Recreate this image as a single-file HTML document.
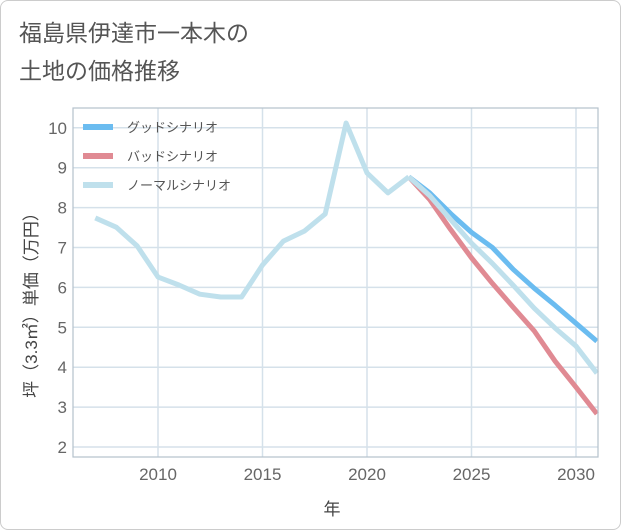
<!DOCTYPE html>
<html><head><meta charset="utf-8"><style>
body{margin:0;background:#fff;font-family:"Liberation Sans","Noto Sans CJK JP",sans-serif;}
#wrap{position:relative;width:619px;height:528px;border:1px solid #ccc;border-radius:8px;overflow:hidden}
</style></head><body>
<div id="wrap">
<svg id="chart" width="621" height="530" xmlns="http://www.w3.org/2000/svg">
<text x="18" y="40" font-size="23" fill="#555">福島県伊達市一本木の</text>
<text x="18" y="78" font-size="23" fill="#555">土地の価格推移</text>
<g id="grid"></g><g id="series"></g><g id="axes"></g><g id="legend"></g>
<text x="331" y="514" font-size="17" fill="#444" text-anchor="middle">年</text>
<text transform="translate(36,300) rotate(-90)" font-size="17" fill="#444" text-anchor="middle">坪（3.3㎡）単価（万円）</text>
</svg></div>
<script>
const histYears=[2007,2008,2009,2010,2011,2012,2013,2014,2015,2016,2017,2018,2019,2020,2021,2022];
const histValues=[7.74,7.51,7.04,6.26,6.06,5.83,5.76,5.76,6.56,7.16,7.41,7.84,10.12,8.87,8.37,8.77];
const futYears=[2022,2023,2024,2025,2026,2027,2028,2029,2030,2031];
const goodValues=[8.77,8.37,7.85,7.38,7.0,6.45,5.98,5.55,5.1,4.65];
const badValues=[8.77,8.2,7.45,6.74,6.1,5.5,4.91,4.15,3.5,2.83];
const normalValues=[8.77,8.3,7.7,7.11,6.6,6.05,5.48,4.98,4.53,3.85];
const yTicks=[2,3,4,5,6,7,8,9,10];
const xTicks=[2010,2015,2020,2025,2030];
const legendLabels=["グッドシナリオ","バッドシナリオ","ノーマルシナリオ"];
const L=72,R=597,T=107,B=456;
const xs=y=>157+(y-2010)*20.9;
const ys=v=>446-(v-2)*39.9;
const NS="http://www.w3.org/2000/svg";
function mk(p,tag,attrs){const e=document.createElementNS(NS,tag);for(const k in attrs)e.setAttribute(k,attrs[k]);p.appendChild(e);return e;}
const grid=document.getElementById('grid'),axes=document.getElementById('axes'),ser=document.getElementById('series'),leg=document.getElementById('legend');
yTicks.forEach(v=>{const l=mk(grid,'line',{x1:L,x2:R,y1:ys(v),y2:ys(v),stroke:'#d5e1ea','stroke-width':1.5});


const t=mk(axes,'text',{x:L-6,y:ys(v)+6,'font-size':17,fill:'#666','text-anchor':'end'});t.textContent=v;

});
xTicks.forEach(v=>{const l=mk(grid,'line',{x1:xs(v),x2:xs(v),y1:T,y2:B,stroke:'#d5e1ea','stroke-width':1.5});


const t=mk(axes,'text',{x:xs(v),y:B+23,'font-size':17,fill:'#666','text-anchor':'middle'});t.textContent=v;

});
const fr=mk(axes,'rect',{x:L,y:T,width:R-L,height:B-T,fill:'none',stroke:'#b5c1cc','stroke-width':1.2});


function line(xv,yv,c,name){const d=xv.map((x,i)=>(i?'L':'M')+xs(x)+','+ys(yv[i])).join(' ');
const p=mk(ser,'path',{d:d,fill:'none',stroke:c,'stroke-width':5,'stroke-linejoin':'round'});

}
line(futYears,badValues,'#e08a93','bad-scenario-line');
line(futYears,goodValues,'#6bbcf0','good-scenario-line');
line(futYears,normalValues,'#bfe0ec','normal-scenario-line');
line(histYears,histValues,'#bfe0ec','historical-line');
const lc=['#6bbcf0','#e08a93','#bfe0ec'];
legendLabels.forEach((s,i)=>{const y=126+i*29;
const r=mk(leg,'rect',{x:82,y:y-3,width:30,height:6,fill:lc[i]});


const t=mk(leg,'text',{x:126,y:y+5,'font-size':13,fill:'#555'});t.textContent=s;

});
</script></body></html>
